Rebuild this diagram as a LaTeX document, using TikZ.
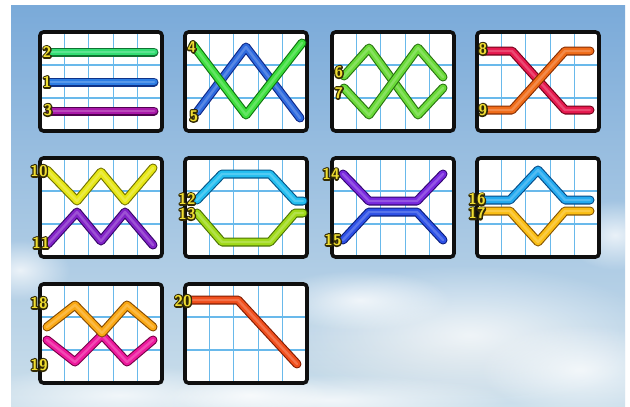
\documentclass[tikz,border=0pt]{standalone}
\usetikzlibrary{fadings}
\definecolor{skytop}{RGB}{122,170,217}
\definecolor{skymid}{RGB}{164,202,232}
\definecolor{skybot}{RGB}{204,223,235}
\definecolor{skygrey}{RGB}{196,212,222}
\definecolor{gridc}{RGB}{105,185,235}
\definecolor{framec}{RGB}{15,15,15}
\definecolor{lblfill}{RGB}{240,222,50}
\definecolor{lbledge}{RGB}{50,42,5}
% line colours
\definecolor{cA}{RGB}{50,222,115}\definecolor{cAd}{RGB}{15,115,50}
\definecolor{cB}{RGB}{45,125,228}\definecolor{cBd}{RGB}{15,50,135}
\definecolor{cC}{RGB}{170,25,170}\definecolor{cCd}{RGB}{80,0,80}
\definecolor{cD}{RGB}{60,222,60}\definecolor{cDd}{RGB}{15,115,15}
\definecolor{cE}{RGB}{45,105,222}\definecolor{cEd}{RGB}{15,40,135}
\definecolor{cF}{RGB}{105,218,55}\definecolor{cFd}{RGB}{40,115,15}
\definecolor{cG}{RGB}{230,25,78}\definecolor{cGd}{RGB}{115,0,25}
\definecolor{cH}{RGB}{240,108,25}\definecolor{cHd}{RGB}{135,45,0}
\definecolor{cI}{RGB}{230,230,20}\definecolor{cId}{RGB}{115,115,0}
\definecolor{cJ}{RGB}{130,35,200}\definecolor{cJd}{RGB}{55,5,105}
\definecolor{cK}{RGB}{35,190,240}\definecolor{cKd}{RGB}{5,85,135}
\definecolor{cL}{RGB}{160,218,25}\definecolor{cLd}{RGB}{75,115,0}
\definecolor{cM}{RGB}{120,40,222}\definecolor{cMd}{RGB}{50,5,115}
\definecolor{cN}{RGB}{45,80,230}\definecolor{cNd}{RGB}{10,30,125}
\definecolor{cO}{RGB}{35,170,240}\definecolor{cOd}{RGB}{5,75,135}
\definecolor{cP}{RGB}{250,190,20}\definecolor{cPd}{RGB}{135,85,0}
\definecolor{cQ}{RGB}{250,168,20}\definecolor{cQd}{RGB}{135,75,0}
\definecolor{cR}{RGB}{238,25,158}\definecolor{cRd}{RGB}{120,0,70}
\definecolor{cS}{RGB}{240,78,28}\definecolor{cSd}{RGB}{130,28,0}
\tikzfading[name=cloudfade, inner color=transparent!25, outer color=transparent!100]
\tikzset{
  frame/.style={draw=framec, line width=3.6pt, rounded corners=3.5pt},
  gridline/.style={draw=gridc, line width=1.1pt},
  lblback/.style={text=lbledge, font=\sffamily\bfseries\fontsize{15.5}{15.5}\selectfont, inner sep=0pt},
  lblfront/.style={text=lblfill, font=\sffamily\bfseries\fontsize{15.5}{15.5}\selectfont, inner sep=0pt},
  cloud/.style={fill=white, path fading=cloudfade},
  greycloud/.style={fill=skygrey, path fading=cloudfade},
  plouter/.style={line width=9pt, line join=round, line cap=round},
  plinner/.style={line width=6.8pt, line join=round, line cap=round},
  plhigh/.style={line width=2.4pt, line join=round, line cap=round, opacity=0.35},
}
\newcommand\panelbox{%
  \fill[white] (0,0) rectangle (122,99);
  \foreach \gx in {24.4,48.8,73.2,97.6} \draw[gridline] (\gx,0) -- (\gx,99);
  \foreach \gy in {33,66} \draw[gridline] (0,\gy) -- (122,\gy);
  \draw[frame] (0,0) rectangle (122,99);}
\newcommand\payline[3]{%
  \draw[plouter, draw=#2] #3;
  \draw[plinner, draw=#1] #3;
  \draw[plhigh, draw=#1!40!white] #3;}
\newcommand\plabel[3]{%
  \node[lblback] (lb#3s) at (#1,#2) {\special{pdf:literal direct 1 Tr 2.8 w 1 j 0.196 0.165 0.02 RG}#3\special{pdf:literal direct 0 Tr}};
  \node[lblfront] (lbl#3) at (#1,#2) {#3};}
\begin{document}
\begin{tikzpicture}[x=1pt,y=-1pt]
\useasboundingbox (0,0) rectangle (630,407);
\fill[white] (0,0) rectangle (630,407);
\shade[top color=skytop, middle color=skymid, bottom color=skybot] (11,5) rectangle (625,407);
\begin{scope}
  \clip (11,5) rectangle (625,407);
  \fill[greycloud] (450,350) ellipse (170pt and 50pt);
  \fill[cloud] (470,335) ellipse (190pt and 70pt);
  \fill[cloud] (360,300) ellipse (90pt and 30pt);
  \fill[cloud] (580,370) ellipse (100pt and 45pt);
  \fill[cloud] (120,395) ellipse (150pt and 30pt);
  \fill[cloud] (20,270) ellipse (50pt and 30pt);
  \fill[cloud] (615,235) ellipse (50pt and 35pt);
  \fill[cloud] (330,400) ellipse (180pt and 25pt);
  \fill[cloud] (250,395) ellipse (80pt and 20pt);
\end{scope}
% ---------- panel 1
\begin{scope}[shift={(40,32)}]
  \panelbox
  \payline{cA}{cAd}{(10,20) -- (114,20)}
  \payline{cB}{cBd}{(10,50) -- (114,50)}
  \payline{cC}{cCd}{(10,79) -- (114,79)}
  \plabel{7}{20}{2}
  \plabel{7}{50}{1}
  \plabel{8}{78}{3}
\end{scope}
% ---------- panel 2
\begin{scope}[shift={(185,32)}]
  \panelbox
  \payline{cE}{cEd}{(12,80) -- (61,15) -- (115,86)}
  \payline{cD}{cDd}{(8,13) -- (61,83) -- (117,11)}
  \plabel{7}{15}{4}
  \plabel{9}{84}{5}
\end{scope}
% ---------- panel 3
\begin{scope}[shift={(332,32)}]
  \panelbox
  \payline{cF}{cFd}{(12,44) -- (37,16) -- (86,83) -- (111,56)}
  \payline{cF}{cFd}{(12,56) -- (37,83) -- (86,16) -- (111,45)}
  \plabel{7}{40}{6}
  \plabel{7}{61}{7}
\end{scope}
% ---------- panel 4
\begin{scope}[shift={(477,32)}]
  \panelbox
  \payline{cG}{cGd}{(8,19) -- (35,19) -- (88,78) -- (113,78)}
  \payline{cH}{cHd}{(8,78) -- (35,78) -- (88,19) -- (113,19)}
  \plabel{6}{17}{8}
  \plabel{6}{78}{9}
\end{scope}
% ---------- panel 5
\begin{scope}[shift={(40,158)}]
  \panelbox
  \payline{cJ}{cJd}{(8,86) -- (37,54) -- (61,83) -- (85,54) -- (113,87)}
  \payline{cI}{cId}{(7,12) -- (37,43) -- (61,14) -- (85,43) -- (113,10)}
  \plabel{-1}{13}{10}
  \plabel{1}{85}{11}
\end{scope}
% ---------- panel 6
\begin{scope}[shift={(185,158)}]
  \panelbox
  \payline{cK}{cKd}{(12,42) -- (37,16) -- (85,16) -- (110,43) -- (118,43)}
  \payline{cL}{cLd}{(12,55) -- (37,84) -- (85,84) -- (110,55) -- (118,55)}
  \plabel{2}{41}{12}
  \plabel{2}{56}{13}
\end{scope}
% ---------- panel 7
\begin{scope}[shift={(332,158)}]
  \panelbox
  \payline{cM}{cMd}{(11,16) -- (37,43) -- (85,43) -- (111,16)}
  \payline{cN}{cNd}{(11,82) -- (37,54) -- (85,54) -- (111,82)}
  \plabel{-1}{16}{14}
  \plabel{1}{82}{15}
\end{scope}
% ---------- panel 8
\begin{scope}[shift={(477,158)}]
  \panelbox
  \payline{cO}{cOd}{(6,42) -- (33,42) -- (61,12) -- (88,42) -- (113,42)}
  \payline{cP}{cPd}{(6,53) -- (33,53) -- (61,84) -- (88,53) -- (113,53)}
  \plabel{0}{41.5}{16}
  \plabel{0}{55.5}{17}
\end{scope}
% ---------- panel 9
\begin{scope}[shift={(40,284)}]
  \panelbox
  \payline{cR}{cRd}{(7,56) -- (35,78) -- (62,51) -- (87,78) -- (113,56)}
  \payline{cQ}{cQd}{(7,43) -- (35,21) -- (62,49) -- (87,21) -- (113,43)}
  \plabel{-1}{19}{18}
  \plabel{-1}{81}{19}
\end{scope}
% ---------- panel 10
\begin{scope}[shift={(185,284)}]
  \panelbox
  \payline{cS}{cSd}{(6,16) -- (53,16) -- (112,80)}
  \plabel{-2}{17}{20}
\end{scope}
\end{tikzpicture}
\end{document}
